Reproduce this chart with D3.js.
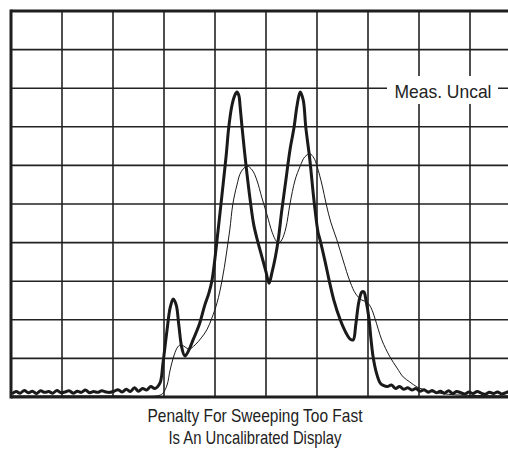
<!DOCTYPE html>
<html>
<head>
<meta charset="utf-8">
<style>
  body { margin: 0; background: #fff; }
  text { font-family: "Liberation Sans Narrow", "Arial Narrow", "Liberation Sans", sans-serif; fill: #222; }
</style>
<script src="https://d3js.org/d3.v7.min.js"></script>
</head>
<body>
<div id="chart"></div>
<script>
// screen divisions (10 x 10 graticule)
var divisions = d3.range(0, 11);

// fast sweep trace (thick): [frequency div, amplitude div]
var fastSweep = [
  [0.02,.08],[0.1,.14],[0.18,.10],[0.26,.17],[0.34,.11],[0.42,.15],[0.5,.09],[0.58,.16],
  [0.66,.12],[0.74,.14],[0.82,.10],[0.9,.17],[0.98,.11],[1.06,.13],[1.14,.16],[1.22,.10],
  [1.3,.15],[1.38,.12],[1.46,.18],[1.54,.11],[1.62,.14],[1.7,.12],[1.78,.16],[1.86,.13],
  [1.94,.12],[2.02,.15],[2.1,.19],[2.18,.13],[2.26,.20],[2.34,.14],[2.42,.24],[2.5,.15],
  [2.58,.22],[2.66,.18],[2.74,.27],[2.82,.22],[2.92,.36],
  [2.98,.88],[3.06,1.74],[3.12,2.31],[3.18,2.54],[3.24,2.38],[3.29,1.87],[3.35,1.27],
  [3.41,1.06],[3.49,1.22],[3.57,1.48],[3.69,1.87],[3.80,2.38],[3.88,2.69],[3.94,3.01],
  [4.00,3.60],[4.04,4.07],[4.10,4.79],[4.16,5.52],[4.22,6.27],[4.27,6.99],[4.33,7.54],
  [4.39,7.82],[4.43,7.90],[4.47,7.80],[4.49,7.56],[4.53,6.99],[4.61,5.98],[4.69,5.10],
  [4.76,4.46],[4.84,4.02],[4.92,3.63],[5.00,3.24],[5.06,2.95],[5.12,3.24],[5.18,3.60],
  [5.24,4.07],[5.31,4.84],[5.39,5.62],[5.47,6.40],[5.55,6.99],[5.61,7.56],[5.67,7.90],
  [5.73,7.69],[5.78,6.99],[5.86,6.14],[5.94,5.10],[6.02,4.27],[6.06,4.07],[6.16,3.50],
  [6.24,3.01],[6.33,2.51],[6.45,2.02],[6.57,1.66],[6.65,1.50],[6.71,1.48],[6.76,1.87],
  [6.82,2.46],[6.88,2.72],[6.92,2.72],[6.96,2.51],[7.02,2.02],[7.06,1.48],[7.10,1.04],
  [7.16,0.65],[7.24,0.36],
  [7.3,.30],[7.38,.27],[7.46,.31],[7.54,.22],[7.62,.27],[7.7,.20],[7.78,.24],[7.86,.18],
  [7.94,.22],[8.02,.15],[8.1,.19],[8.18,.12],[8.26,.17],[8.34,.11],[8.42,.15],[8.5,.10],
  [8.58,.16],[8.66,.09],[8.74,.14],[8.82,.11],[8.9,.08],[8.98,.13],[9.06,.09],[9.14,.14],
  [9.22,.10],[9.3,.07],[9.38,.12],[9.46,.09],[9.54,.13],[9.62,.08],[9.7,.11],[9.78,.14],
  [9.86,.09],[9.94,.12],[10,.10]
];

// calibrated trace (thin)
var calibrated = [
  [0,.03],[1,.03],[2,.03],[2.9,.04],[2.98,.10],[3.06,.31],[3.12,.70],[3.20,1.09],[3.27,1.30],
  [3.33,1.35],[3.41,1.30],[3.49,1.24],[3.61,1.35],[3.73,1.53],[3.84,1.74],[3.94,2.05],
  [4.04,2.44],[4.14,3.03],[4.22,3.68],[4.29,4.33],[4.35,5.00],[4.43,5.49],[4.51,5.83],
  [4.63,5.98],[4.73,5.88],[4.82,5.62],[4.92,5.16],[5.02,4.72],[5.12,4.27],[5.20,4.04],
  [5.25,3.99],[5.31,4.07],[5.39,4.38],[5.47,5.00],[5.57,5.62],[5.67,5.98],[5.76,6.22],
  [5.86,6.30],[5.94,6.19],[6.00,5.98],[6.10,5.49],[6.18,5.00],[6.27,4.53],[6.39,4.07],
  [6.51,3.55],[6.65,2.98],[6.76,2.67],[6.88,2.51],[6.98,2.46],[7.06,2.31],[7.14,2.02],
  [7.27,1.48],[7.43,1.04],[7.57,0.75],[7.69,0.52],[7.82,0.39],[7.96,0.26],[8.12,0.18],
  [8.27,0.13],[8.51,0.08],[8.80,0.05],[9.75,.03],[10,.03]
];

var markerLabel = "Meas. Uncal";
var captionLines = ["Penalty For Sweeping Too Fast", "Is An Uncalibrated Display"];
var captionWidths = [215, 173];

var W = 508, H = 450;
var x = d3.scaleLinear().domain([0, 10]).range([11, 521]);
var y = d3.scaleLinear().domain([0, 10]).range([397, 11]);

var svg = d3.select("#chart").append("svg")
  .attr("width", W).attr("height", H);

// graticule
var grid = svg.append("g").attr("stroke", "#222").attr("stroke-width", 1.6);
grid.selectAll(".v").data(divisions.slice(1, 10)).enter().append("line")
  .attr("x1", d => x(d)).attr("x2", d => x(d))
  .attr("y1", y(0)).attr("y2", y(10));
grid.selectAll(".h").data(divisions.slice(1, 10)).enter().append("line")
  .attr("x1", x(0)).attr("x2", x(10))
  .attr("y1", d => y(d)).attr("y2", d => y(d));

// frame
var frame = svg.append("g").attr("stroke", "#1e1e1e").attr("stroke-width", 3);
frame.append("line").attr("x1", x(0)).attr("x2", x(10)).attr("y1", y(10)).attr("y2", y(10));
frame.append("line").attr("x1", x(0)).attr("x2", x(10)).attr("y1", y(0)).attr("y2", y(0));
frame.append("line").attr("x1", x(0)).attr("x2", x(0)).attr("y1", y(10) - 1.5).attr("y2", y(0) + 1.5);
frame.append("line").attr("x1", x(10)).attr("x2", x(10)).attr("y1", y(10)).attr("y2", y(0));

// label with knocked-out grid behind it
svg.append("rect").attr("x", 387).attr("y", 76).attr("width", 111).attr("height", 28).attr("fill", "#fff");
svg.append("text").attr("x", 443).attr("y", 98)
  .attr("text-anchor", "middle").attr("font-size", 19)
  .attr("textLength", 97).attr("lengthAdjust", "spacingAndGlyphs").text(markerLabel);

var line = d3.line().x(d => x(d[0])).y(d => y(d[1])).curve(d3.curveCatmullRom.alpha(0.5));

svg.append("path").datum(calibrated).attr("d", line)
  .attr("fill", "none").attr("stroke", "#1a1a1a").attr("stroke-width", 1);
svg.append("path").datum(fastSweep).attr("d", line)
  .attr("fill", "none").attr("stroke", "#1a1a1a").attr("stroke-width", 3)
  .attr("stroke-linejoin", "round");

svg.selectAll(".cap").data(captionLines).enter().append("text")
  .attr("x", 255).attr("y", (d, i) => 422 + i * 22)
  .attr("text-anchor", "middle").attr("font-size", 19)
  .attr("textLength", (d, i) => captionWidths[i]).attr("lengthAdjust", "spacingAndGlyphs")
  .text(d => d);
</script>
</body>
</html>
